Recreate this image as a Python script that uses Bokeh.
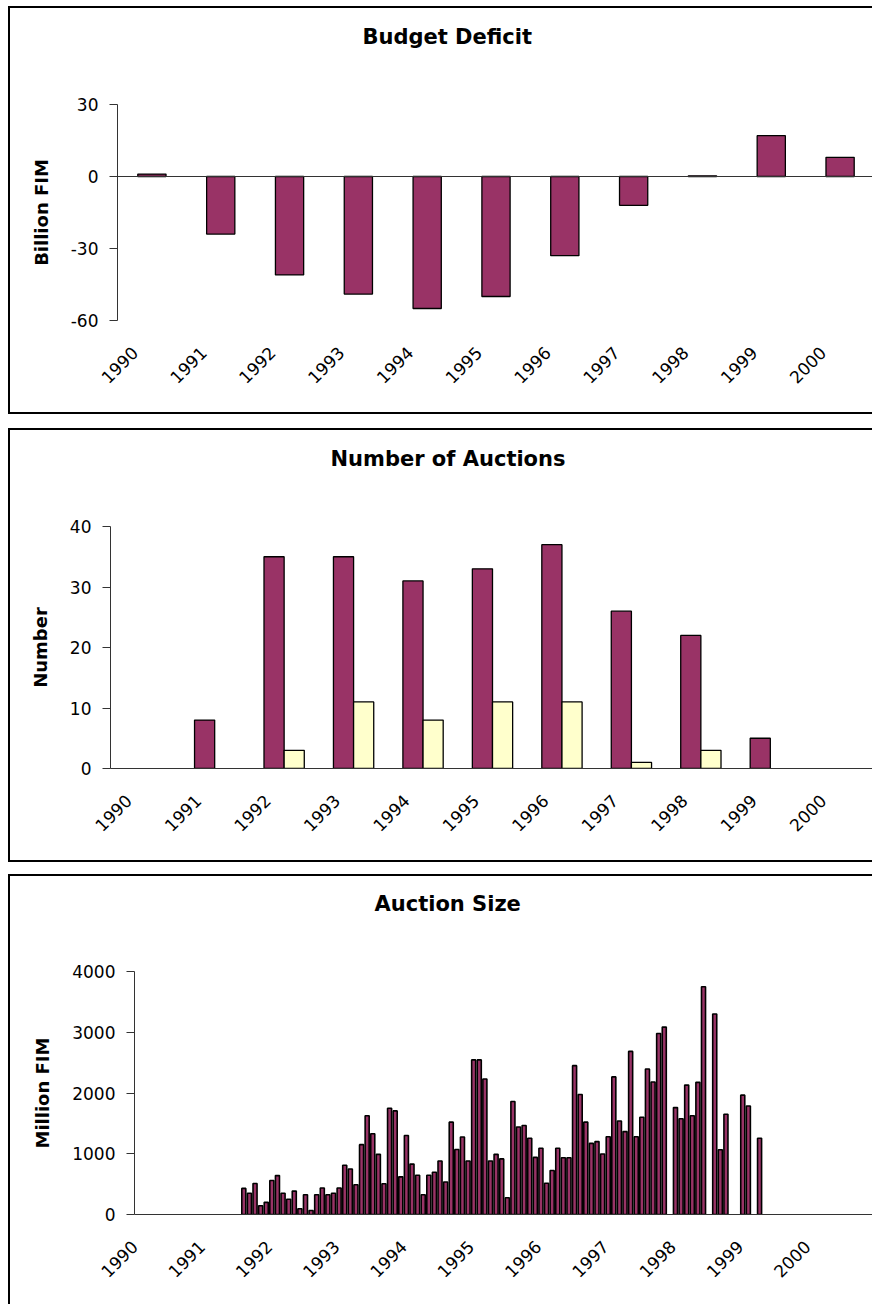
import math
from bokeh.plotting import figure
from bokeh.models import Range1d, FixedTicker, Span, ColumnDataSource
from bokeh.embed import file_html
from bokeh.resources import INLINE

# ---------------- data ----------------
years = [1990, 1991, 1992, 1993, 1994, 1995, 1996, 1997, 1998, 1999, 2000]
year_labels = [str(y) for y in years]

deficit = [1, -24, -41, -49, -55, -50, -33, -12, 0.3, 17, 8]

auctions_main = [0, 8, 35, 35, 31, 33, 37, 26, 22, 5, 0]
auctions_other = [0, 0, 3, 11, 8, 11, 11, 1, 3, 0, 0]

size_months = [
    "1991-08", "1991-09", "1991-10", "1991-11", "1991-12",
    "1992-01", "1992-02", "1992-03", "1992-04", "1992-05", "1992-06",
    "1992-07", "1992-08", "1992-09", "1992-10", "1992-11", "1992-12",
    "1993-01", "1993-02", "1993-03", "1993-04", "1993-05", "1993-06",
    "1993-07", "1993-08", "1993-09", "1993-10", "1993-11", "1993-12",
    "1994-01", "1994-02", "1994-03", "1994-04", "1994-05", "1994-06",
    "1994-07", "1994-08", "1994-09", "1994-10", "1994-11", "1994-12",
    "1995-01", "1995-02", "1995-03", "1995-04", "1995-05", "1995-06",
    "1995-07", "1995-08", "1995-09", "1995-10", "1995-11", "1995-12",
    "1996-01", "1996-02", "1996-03", "1996-04", "1996-05", "1996-06",
    "1996-07", "1996-08", "1996-09", "1996-10", "1996-11", "1996-12",
    "1997-01", "1997-02", "1997-03", "1997-04", "1997-05", "1997-06",
    "1997-07", "1997-08", "1997-09", "1997-10", "1997-11",
    "1998-01", "1998-02", "1998-03", "1998-04", "1998-05", "1998-06",
    "1998-08", "1998-09", "1998-10",
    "1999-01", "1999-02", "1999-04",
]
size_values = [
    430, 350, 510, 145, 200,
    560, 640, 350, 250, 385, 95,
    325, 65, 325, 435, 325, 350,
    435, 810, 750, 490, 1150, 1625,
    1330, 990, 505, 1750, 1705, 620,
    1300, 830, 645, 325, 645, 695,
    880, 535, 1520, 1070, 1275, 880,
    2545, 2545, 2230, 880, 990, 915,
    275, 1860, 1440, 1465, 1255, 940,
    1090, 515, 725, 1090, 935, 935,
    2450, 1975, 1520, 1170, 1200, 995,
    1280, 2265, 1540, 1365, 2685, 1280,
    1600, 2395, 2180, 2980, 3085,
    1760, 1575, 2130, 1625, 2175, 3750,
    3300, 1065, 1650,
    1965, 1785, 1255,
]

# ---------------- style ----------------
FONT = "DejaVu Sans"
MAROON = "#993366"
CREAM = "#FFFFCC"
AXIS = "#333333"
W = 864

S1 = 0.25   # shift of category centres from label ticks (panel 1)
S2 = 0.24   # panel 2


def base_fig(title, title_offset, height, left, top, bottom, xr, yr, yticks, ylabel,
             margin_top, border_bottom=True):
    styles = {"border-top": "2px solid black", "border-left": "2px solid black",
              "border-right": "none"}
    styles["border-bottom"] = "2px solid black" if border_bottom else "none"
    # two empty trailing lines lift the title well above the plot area
    p = figure(width=W, height=height, output_backend="svg", toolbar_location=None,
               x_range=xr, y_range=yr, min_border_left=left, min_border_right=0,
               min_border_top=top, min_border_bottom=bottom, title=title + "\n\n",
               background_fill_color="white", border_fill_color="white",
               styles=styles, margin=(margin_top, 0, 0, 8))
    p.outline_line_color = None
    p.grid.visible = False

    p.title.align = "left"
    p.title.offset = title_offset
    p.title.vertical_align = "top"
    p.title.standoff = 12
    p.title.text_font = FONT
    p.title.text_font_size = "21px"
    p.title.text_font_style = "bold"
    p.title.text_color = "black"

    xa = p.xaxis[0]
    xa.ticker = FixedTicker(ticks=list(range(len(year_labels))))
    xa.major_label_overrides = {i: lab for i, lab in enumerate(year_labels)}
    xa.major_label_orientation = math.pi / 4
    xa.major_tick_line_color = None
    xa.minor_tick_line_color = None
    xa.axis_line_color = AXIS
    xa.major_label_text_font = FONT
    xa.major_label_text_font_size = "17px"
    xa.major_label_text_color = "black"
    xa.major_label_standoff = 23

    ya = p.yaxis[0]
    ya.ticker = FixedTicker(ticks=yticks)
    ya.major_label_overrides = {t: str(t) for t in yticks}
    ya.minor_tick_line_color = None
    ya.major_tick_in = 0
    ya.major_tick_out = 8
    ya.major_tick_line_color = AXIS
    ya.axis_line_color = AXIS
    ya.major_label_text_font = FONT
    ya.major_label_text_font_size = "17px"
    ya.major_label_text_color = "black"
    ya.major_label_standoff = 11
    ya.axis_label = ylabel
    ya.axis_label_text_font = FONT
    ya.axis_label_text_font_size = "18px"
    ya.axis_label_text_font_style = "bold"
    ya.axis_label_text_color = "black"
    ya.axis_label_standoff = 16
    return p


# ---------------- panel 1: Budget Deficit ----------------
p1 = base_fig("Budget Deficit", 245, 408, 107, 96, 96,
              Range1d(S1 - 0.5, len(years) - 0.5 + S1), Range1d(-60, 30),
              [-60, -30, 0, 30], "Billion FIM", 6)
p1.xaxis[0].axis_line_color = None
p1.add_layout(Span(location=0, dimension="width", line_color=AXIS, line_width=1))
src1 = ColumnDataSource(dict(x=[i + S1 for i in range(len(years))], top=deficit))
p1.vbar(x="x", top="top", bottom=0, width=0.41, source=src1,
        fill_color=MAROON, line_color="black", line_width=1.3)

# ---------------- panel 2: Number of Auctions ----------------
p2 = base_fig("Number of Auctions", 220, 434, 100, 96, 96,
              Range1d(S2 - 0.5, len(years) - 0.5 + S2), Range1d(0, 40),
              [0, 10, 20, 30, 40], "Number", 14)
idx_a = [i for i, v in enumerate(auctions_main) if v > 0]
idx_b = [i for i, v in enumerate(auctions_other) if v > 0]
src2a = ColumnDataSource(dict(x=[i + S2 - 0.145 for i in idx_a], top=[auctions_main[i] for i in idx_a]))
src2b = ColumnDataSource(dict(x=[i + S2 + 0.145 for i in idx_b], top=[auctions_other[i] for i in idx_b]))
p2.vbar(x="x", top="top", bottom=0, width=0.29, source=src2a,
        fill_color=MAROON, line_color="black", line_width=1.3)
p2.vbar(x="x", top="top", bottom=0, width=0.29, source=src2b,
        fill_color=CREAM, line_color="black", line_width=1.3)

# ---------------- panel 3: Auction Size ----------------
p3 = base_fig("Auction Size", 240, 430, 124, 95, 92,
              Range1d(0, len(years)), Range1d(0, 4000),
              [0, 1000, 2000, 3000, 4000], "Million FIM", 12, border_bottom=False)
xs3 = []
for m in size_months:
    yy, mm = m.split("-")
    xs3.append(int(yy) - years[0] + (int(mm) - 0.5) / 12)
src3 = ColumnDataSource(dict(x=xs3, top=size_values))
p3.vbar(x="x", top="top", bottom=0, width=0.06, source=src3,
        fill_color=MAROON, line_color="black", line_width=1.6)

open("out.html", "w").write(file_html([p1, p2, p3], INLINE))
